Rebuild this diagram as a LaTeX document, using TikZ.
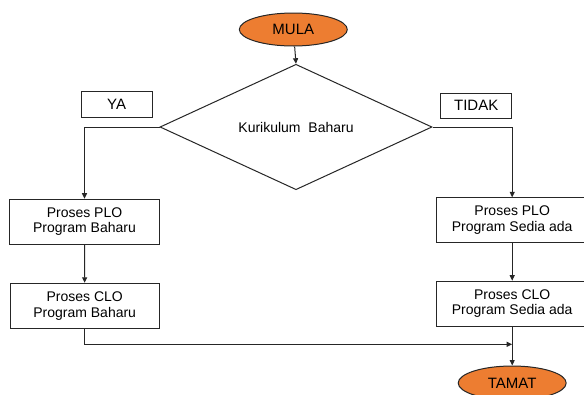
\documentclass[tikz,border=0pt]{standalone}
\usepackage{fontspec}
\setmainfont{Liberation Sans}
\usetikzlibrary{shapes.geometric,arrows.meta}
\definecolor{office}{HTML}{ED7D31}
\begin{document}
\begin{tikzpicture}[x=1pt,y=-1pt,
  lw/.style={line width=1pt, draw=black!85},
  terminal/.style={ellipse, lw, fill=office, inner sep=0pt, minimum width=108pt, minimum height=33pt, font=\fontsize{15}{17}\selectfont},
  procbox/.style={rectangle, lw, fill=white, inner sep=0pt, minimum height=45pt, align=center, font=\fontsize{14}{15.7}\selectfont},
  labelbox/.style={rectangle, lw, inner sep=0pt, minimum width=71pt, minimum height=25.5pt, font=\fontsize{15}{17}\selectfont},
  decision/.style={diamond, lw, inner sep=0pt, minimum width=272pt, minimum height=72pt, font=\fontsize{14}{16}\selectfont},
  conn/.style={lw, -{Triangle[length=5.5pt,width=5pt]}}
]
\useasboundingbox (0,0) rectangle (584,394);
\fill[white] (0,0) rectangle (584,394);

\node[terminal] (mula) at (293.3,29.5) {MULA};
\node[decision] (dec) at (296,127) {Kurikulum\ \ Baharu};
\node[labelbox] (ya) at (116.6,104.5) {YA};
\node[labelbox] (tidak) at (476.2,105.8) {TIDAK};

\node[procbox, minimum width=150pt] (lplo) at (84.5,221.7) {Proses PLO\\Program Baharu};
\node[procbox, minimum width=149pt] (lclo) at (84.7,305.8) {Proses CLO\\Program Baharu};
\node[procbox, minimum width=151pt] (rplo) at (512.2,220.3) {Proses PLO\\Program Sedia ada};
\node[procbox, minimum width=151pt] (rclo) at (512.2,303.7) {Proses CLO\\Program Sedia ada};

\node[terminal, minimum height=34pt] (tamat) at (512.2,383) {TAMAT};

\coordinate (join) at (512.2,344.3);

\draw[conn] (mula) -- (dec.north);
\draw[conn] (dec.west) -| (lplo.north);
\draw[conn] (dec.east) -| (rplo.north);
\draw[conn] (lplo) -- (lclo);
\draw[conn] (rplo) -- (rclo);
\draw[conn] (lclo.south) |- (join);
\draw[conn] (rclo) -- (tamat);
\end{tikzpicture}
\end{document}
